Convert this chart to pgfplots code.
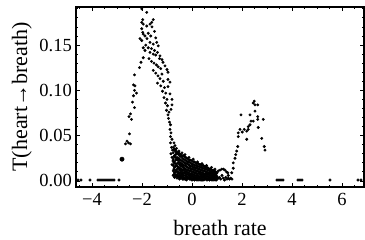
\documentclass[border=0pt]{standalone}
\usepackage{fontspec}
\setmainfont{Liberation Serif}
\usepackage{pgfplots}
\pgfplotsset{compat=1.18}
\begin{document}
\begin{tikzpicture}
\useasboundingbox (-76pt,-53pt) rectangle (289pt,187pt);
\begin{axis}[
  scale only axis, width=288pt, height=180pt,
  at={(0pt,0pt)}, anchor=south west,
  xmin=-4.64, xmax=6.88, ymin=-0.0067, ymax=0.192,
  axis line style={line width=1.4pt},
  tick align=inside,
  xtick={-4,-2,0,2,4,6}, xticklabels={−4,−2,0,2,4,6},
  ytick={0,0.05,0.1,0.15}, yticklabels={0.00,0.05,0.10,0.15},
  minor xtick={-4.5,-3.5,-3,-2.5,-1.5,-1,-0.5,0.5,1,1.5,2.5,3,3.5,4.5,5,5.5,6.5},
  minor ytick={0.01,0.02,0.03,0.04,0.06,0.07,0.08,0.09,0.11,0.12,0.13,0.14,0.16,0.17,0.18,0.19},
  major tick length=4pt, minor tick length=2pt,
  every tick/.style={black, line width=0.8pt},
  xticklabel style={font=\fontsize{18.5}{20}\selectfont, inner sep=0pt, anchor=base, yshift=-19pt},
  yticklabel style={font=\fontsize{18.5}{20}\selectfont, inner sep=0pt, anchor=east, xshift=-4pt},
  xlabel={breath rate}, ylabel={T(heart→breath)},
  xlabel style={font=\fontsize{22}{24}\selectfont, at={(axis description cs:0.5,-0.267)}, anchor=base, inner sep=0pt},
  ylabel style={font=\fontsize{22}{24}\selectfont, at={(axis description cs:-0.170,0.5)}, anchor=base, inner sep=0pt},
  clip=false,
]
\addplot[only marks, mark=*, mark size=1.25pt, black] coordinates {
(-4.56,0.001) (-4.44,0.001) (-4.08,0.001) (-3.76,0.001) (-3.68,0.001) (-3.60,0.001) (-3.52,0.001) (-3.44,0.001) (-3.36,0.001) (-3.28,0.001) (-3.20,0.001) (-3.12,0.001) (-2.92,0.001)
(3.40,0.001) (3.48,0.001) (3.56,0.001) (3.64,0.001) (4.24,0.001) (4.32,0.001) (4.40,0.001) (5.52,0.001) (6.64,0.001) (6.76,0.001)
(-2.66,0.041) (-2.54,0.042) (-2.46,0.041) (-2.60,0.044) (-2.50,0.052) (-2.42,0.068) (-2.52,0.071) (-2.46,0.074)
(-2.30,0.081) (-2.38,0.087) (-2.34,0.094) (-2.22,0.097) (-2.30,0.100) (-2.28,0.105) (-2.34,0.106) (-2.30,0.117) (-2.10,0.125) (-2.04,0.131)
(-2.01,0.190) (-1.81,0.186) (-1.97,0.178) (-2.01,0.175) (-1.95,0.173) (-1.81,0.171) (-1.68,0.173) (-1.61,0.175) (-2.01,0.168) (-1.97,0.164) (-1.95,0.162)
(-2.08,0.157) (-2.01,0.155) (-1.68,0.153) (-1.55,0.151) (-1.41,0.153) (-1.35,0.149) (-1.95,0.147) (-1.88,0.144) (-1.68,0.142) (-1.55,0.140) (-1.95,0.136)
(-1.55,0.178) (-1.60,0.170) (-1.50,0.165) (-1.65,0.160) (-1.75,0.163) (-1.80,0.157) (-1.88,0.160) (-1.45,0.158)
(-1.28,0.138) (-1.20,0.134) (-1.16,0.131) (-1.08,0.127) (-1.00,0.123) (-0.96,0.120) (-0.96,0.112) (-0.88,0.109) (-0.96,0.104) (-0.88,0.096) (-0.80,0.090) (-0.80,0.084) (-0.84,0.079) (-0.96,0.073)
(-1.85,0.150) (-1.75,0.147) (-1.62,0.146) (-1.50,0.144) (-1.45,0.139) (-1.38,0.142) (-1.30,0.135) (-1.72,0.135) (-1.62,0.132) (-1.52,0.130) (-1.42,0.128) (-1.35,0.126) (-1.25,0.124)
(-1.55,0.122) (-1.45,0.119) (-1.36,0.116) (-1.28,0.113) (-1.20,0.118) (-1.15,0.110) (-1.38,0.108) (-1.25,0.105) (-1.10,0.103) (-1.18,0.099) (-1.05,0.097) (-1.12,0.092) (-1.00,0.090)
(-1.06,0.086) (-0.98,0.083) (-1.02,0.078) (-0.92,0.076) (-0.94,0.069) (-0.90,0.065) (-0.86,0.062) (-0.88,0.057) (-0.84,0.053) (-0.86,0.049) (-0.80,0.046) (-0.86,0.042) (-0.82,0.037) (-0.78,0.034) (-0.84,0.030) (-0.80,0.026) (-0.76,0.022) (-0.80,0.018)
(-0.75,0.037) (-0.75,0.031) (-0.75,0.024) (-0.75,0.017) (-0.75,0.011) (-0.75,0.006)
(-0.70,0.035) (-0.70,0.028) (-0.70,0.021) (-0.70,0.015) (-0.70,0.009) (-0.70,0.004)
(-0.65,0.034) (-0.65,0.029) (-0.65,0.023) (-0.65,0.016) (-0.65,0.010) (-0.65,0.005)
(-0.60,0.032) (-0.60,0.026) (-0.60,0.019) (-0.60,0.013) (-0.60,0.007) (-0.60,0.003)
(-0.55,0.031) (-0.55,0.025) (-0.55,0.020) (-0.55,0.014) (-0.55,0.008) (-0.55,0.004)
(-0.50,0.030) (-0.50,0.024) (-0.50,0.018) (-0.50,0.012) (-0.50,0.006) (-0.50,0.002)
(-0.45,0.029) (-0.45,0.023) (-0.45,0.017) (-0.45,0.011) (-0.45,0.006) (-0.45,0.003)
(-0.40,0.028) (-0.40,0.022) (-0.40,0.016) (-0.40,0.010) (-0.40,0.005)
(-0.35,0.028) (-0.35,0.021) (-0.35,0.015) (-0.35,0.009) (-0.35,0.004)
(-0.30,0.027) (-0.30,0.020) (-0.30,0.014) (-0.30,0.009) (-0.30,0.003)
(-0.25,0.026) (-0.25,0.019) (-0.25,0.013) (-0.25,0.008) (-0.25,0.003)
(-0.20,0.025) (-0.20,0.019) (-0.20,0.012) (-0.20,0.007) (-0.20,0.002)
(-0.15,0.024) (-0.15,0.018) (-0.15,0.012) (-0.15,0.007) (-0.15,0.003)
(-0.10,0.023) (-0.10,0.017) (-0.10,0.011) (-0.10,0.006) (-0.10,0.002)
(-0.05,0.023) (-0.05,0.016) (-0.05,0.011) (-0.05,0.006) (-0.05,0.002)
(0.00,0.022) (0.00,0.016) (0.00,0.010) (0.00,0.005) (0.00,0.001)
(0.05,0.021) (0.05,0.015) (0.05,0.010) (0.05,0.005) (0.05,0.002)
(0.10,0.021) (0.10,0.015) (0.10,0.009) (0.10,0.004) (0.10,0.001)
(0.15,0.020) (0.15,0.014) (0.15,0.009) (0.15,0.004) (0.15,0.002)
(0.20,0.019) (0.20,0.014) (0.20,0.008) (0.20,0.004) (0.20,0.001)
(0.25,0.019) (0.25,0.013) (0.25,0.008) (0.25,0.003)
(0.30,0.018) (0.30,0.013) (0.30,0.008) (0.30,0.003)
(0.35,0.018) (0.35,0.012) (0.35,0.007) (0.35,0.003)
(0.40,0.017) (0.40,0.012) (0.40,0.007) (0.40,0.002)
(0.45,0.017) (0.45,0.011) (0.45,0.006) (0.45,0.002)
(0.50,0.016) (0.50,0.011) (0.50,0.006) (0.50,0.002)
(0.55,0.015) (0.55,0.010) (0.55,0.006) (0.55,0.002)
(0.60,0.015) (0.60,0.010) (0.60,0.005) (0.60,0.001)
(0.65,0.014) (0.65,0.009) (0.65,0.005) (0.65,0.002)
(0.70,0.013) (0.70,0.009) (0.70,0.004) (0.70,0.001)
(0.75,0.013) (0.75,0.008) (0.75,0.004) (0.75,0.002)
(0.80,0.012) (0.80,0.008) (0.80,0.004) (0.80,0.001)
(0.85,0.012) (0.85,0.007) (0.85,0.003)
(0.90,0.011) (0.90,0.007) (0.90,0.003)
(0.95,0.010) (0.95,0.006) (0.95,0.002)
(1.00,0.009) (1.00,0.005) (1.00,0.002)
(-0.725,0.034) (-0.725,0.027) (-0.725,0.020) (-0.725,0.013) (-0.725,0.007)
(-0.675,0.033) (-0.675,0.026) (-0.675,0.019) (-0.675,0.012) (-0.675,0.007)
(-0.625,0.031) (-0.625,0.024) (-0.625,0.017) (-0.625,0.011) (-0.625,0.006)
(-0.575,0.030) (-0.575,0.023) (-0.575,0.016) (-0.575,0.010) (-0.575,0.005)
(-0.525,0.029) (-0.525,0.022) (-0.525,0.015) (-0.525,0.009) (-0.525,0.005)
(-0.475,0.027) (-0.475,0.020) (-0.475,0.014) (-0.475,0.009) (-0.475,0.004)
(-0.425,0.027) (-0.425,0.019) (-0.425,0.013) (-0.425,0.008) (-0.425,0.004)
(-0.375,0.025) (-0.375,0.018) (-0.375,0.012) (-0.375,0.007) (-0.375,0.002)
(-0.325,0.024) (-0.325,0.017) (-0.325,0.012) (-0.325,0.006) (-0.325,0.002)
(-0.275,0.023) (-0.275,0.017) (-0.275,0.011) (-0.275,0.006) (-0.275,0.002)
(-0.225,0.022) (-0.225,0.016) (-0.225,0.010) (-0.225,0.005) (-0.225,0.001)
(-0.175,0.021) (-0.175,0.015) (-0.175,0.009) (-0.175,0.004)
(-0.125,0.021) (-0.125,0.014) (-0.125,0.009) (-0.125,0.004)
(-0.075,0.020) (-0.075,0.014) (-0.075,0.008) (-0.075,0.004)
(-0.025,0.019) (-0.025,0.013) (-0.025,0.008) (-0.025,0.003)
(0.025,0.018) (0.025,0.013) (0.025,0.007) (0.025,0.003)
(0.075,0.018) (0.075,0.012) (0.075,0.007) (0.075,0.003)
(0.125,0.017) (0.125,0.012) (0.125,0.006) (0.125,0.002)
(0.175,0.017) (0.175,0.011) (0.175,0.006) (0.175,0.002)
(0.225,0.016) (0.225,0.011) (0.225,0.006) (0.225,0.002)
(0.275,0.016) (0.275,0.010) (0.275,0.005) (0.275,0.001)
(0.325,0.015) (0.325,0.010) (0.325,0.005) (0.325,0.001)
(0.375,0.015) (0.375,0.009) (0.375,0.005) (0.375,0.001)
(0.425,0.014) (0.425,0.009) (0.425,0.004) (0.425,0.001)
(0.475,0.014) (0.475,0.008) (0.475,0.004) (0.475,0.001)
(0.525,0.013) (0.525,0.008) (0.525,0.004)
(0.575,0.013) (0.575,0.008) (0.575,0.003)
(0.625,0.012) (0.625,0.007) (0.625,0.003)
(0.675,0.012) (0.675,0.007) (0.675,0.003)
(0.725,0.011) (0.725,0.006) (0.725,0.002)
(0.775,0.010) (0.775,0.006) (0.775,0.002)
(0.825,0.010) (0.825,0.005) (0.825,0.002)
(0.875,0.009) (0.875,0.005) (0.875,0.001)
(0.925,0.009) (0.925,0.004) (0.925,0.001)
(0.975,0.008) (0.975,0.004) (0.975,0.001)
(-0.72,0.042) (-0.68,0.039) (-0.62,0.036) (-0.52,0.033) (-0.40,0.031) (-0.28,0.029) (-0.12,0.026) (0.05,0.024) (0.22,0.021) (0.40,0.019) (0.58,0.017) (0.78,0.015) (0.92,0.013)
(0.99,0.009) (1.05,0.011) (1.12,0.012) (1.19,0.013) (1.26,0.013) (1.32,0.012) (1.38,0.010) (1.43,0.009) (1.45,0.006)
(1.10,0.004) (1.20,0.006) (1.25,0.003) (1.35,0.004) (1.50,0.002) (1.55,0.003) (1.60,0.002) (1.40,0.002) (1.15,0.002) (1.05,0.003) (1.30,0.001) (1.45,0.003)
(1.59,0.009) (1.65,0.014) (1.65,0.020) (1.72,0.025) (1.75,0.029) (1.79,0.033) (1.83,0.038) (1.85,0.049) (1.85,0.053) (1.92,0.057) (1.96,0.073)
(2.01,0.054) (2.09,0.057) (2.19,0.046) (2.19,0.055) (2.25,0.057) (2.25,0.060) (2.32,0.062) (2.36,0.066) (2.32,0.073) (2.45,0.066)
(2.45,0.086) (2.49,0.088) (2.52,0.084) (2.63,0.084) (2.52,0.077) (2.63,0.071) (2.63,0.068) (2.85,0.068) (2.65,0.059) (2.79,0.047) (2.89,0.038) (2.92,0.034)
};
\addplot[only marks, mark=*, mark size=2.2pt, black] coordinates {(-2.80,0.024)};
\end{axis}
\end{tikzpicture}
\end{document}
